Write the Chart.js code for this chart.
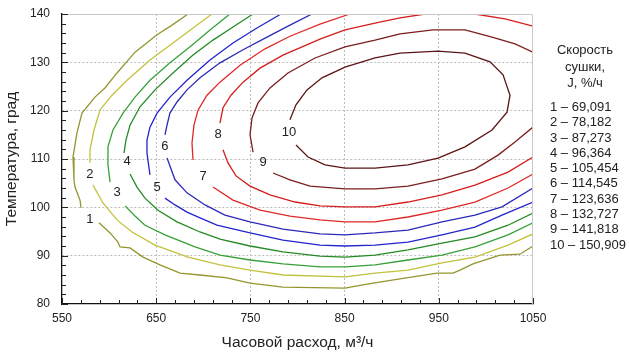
<!DOCTYPE html>
<html>
<head>
<meta charset="utf-8">
<script src="https://cdn.jsdelivr.net/npm/chart.js@4.4.1/dist/chart.umd.min.js"></script>
<style>
    html, body { margin: 0; padding: 0; background: #fff; }
    #wrap { position: relative; width: 629px; height: 355px; font-family: "Liberation Sans", Arial, sans-serif; color: #222; }
    #dryingChart { position: absolute; left: 0; top: 0; }
    .legend-head { position: absolute; left: 545px; top: 42px; width: 80px; text-align: center; font-size: 13px; line-height: 16.5px; }
    .legend-list { position: absolute; left: 550px; top: 99px; font-size: 13px; line-height: 15.3px; white-space: nowrap; }
</style>
</head>
<body>
<div id="wrap">
    <canvas id="dryingChart" width="629" height="355"></canvas>
    <div class="legend-head">Скорость<br>сушки,<br>J, %/ч</div>
    <div class="legend-list" id="levelList"></div>
</div>
<script>
"use strict";

// Levels of the drying rate J, %/h
const levels = [69.091, 78.182, 87.273, 96.364, 105.454, 114.545, 123.636, 132.727, 141.818, 150.909];
const xTicks = [550, 650, 750, 850, 950, 1050];
const yTicks = [80, 90, 100, 110, 120, 130, 140];

// Contour lines: [flow m3/h, temperature], split where the label sits
const contour1 = [
    [[683.8, 140], [666.8, 137.7], [650.9, 135.7], [627.5, 132.1], [608.4, 127.8], [595.6, 124.7], [585.0, 122.8],
     [571.2, 119.5], [565.9, 115.4], [561.7, 110.4], [562.7, 105.7], [563.8, 104.2], [569.1, 101.5], [570.2, 99.9]],
    [[589.3, 96.8], [601.0, 94.7], [609.4, 92.8], [611.6, 91.8], [622.2, 91.6], [636.0, 89.7], [654.0, 88.1],
     [675.3, 86.4], [696.5, 86.0], [725.2, 85.4], [749.6, 84.3], [784.6, 83.5], [850.4, 83.3], [873.8, 84.1],
     [908.8, 85.2], [948.1, 86.4], [965.1, 86.4], [972.5, 87.0], [986.3, 88.3], [1015.0, 90.1], [1036.2, 90.3], [1050, 92.0]]
];
const contour2 = [
    [[709.2, 140], [689.1, 137.1], [667.8, 134.0], [643.4, 130.5], [619.0, 126.3], [603.1, 123.2], [590.3, 120.1],
     [584.0, 116.0], [579.7, 111.9], [579.7, 109.2]],
    [[582.9, 104.6], [593.5, 100.9], [608.4, 97.4], [624.3, 94.9], [648.7, 92.2], [683.8, 89.7], [717.7, 88.1],
     [749.6, 87.0], [784.6, 86.0], [850.4, 85.6], [882.3, 86.4], [917.3, 87.0], [953.4, 88.5], [988.4, 89.7],
     [1023.5, 92.2], [1050, 94.5]]
];
const contour3 = [
    [[728.3, 140], [707.1, 136.7], [685.9, 133.2], [664.6, 129.9], [643.4, 126.3], [627.5, 122.8], [614.8, 119.5],
     [604.1, 116.0], [598.8, 112.5], [598.8, 108.8], [601.0, 105.2]],
    [[616.9, 100.3], [627.5, 98.2], [638.1, 96.3], [659.3, 94.3], [691.2, 91.8], [717.7, 90.1], [749.6, 89.1],
     [784.6, 88.3], [823.9, 87.7], [850.4, 87.7], [882.3, 88.1], [917.3, 89.1], [953.4, 90.1], [988.4, 91.8],
     [1023.5, 94.3], [1050, 96.8]]
];
const contour4 = [
    [[752.8, 140], [731.5, 137.3], [710.3, 134.6], [689.1, 131.5], [667.8, 127.8], [648.7, 124.3], [632.8, 120.8],
     [622.2, 117.0], [617.9, 113.9], [615.8, 111.2]],
    [[622.2, 106.9], [629.6, 104.2], [638.1, 101.9], [651.9, 99.4], [672.1, 97.0], [696.5, 94.9], [717.7, 93.4],
     [749.6, 92.0], [784.6, 90.8], [823.9, 89.9], [850.4, 89.7], [882.3, 90.1], [917.3, 91.2], [953.4, 92.6],
     [988.4, 93.9], [1023.5, 96.3], [1050, 98.8]]
];
const contour5 = [
    [[782.5, 140], [757.0, 137.1], [731.5, 134.0], [707.1, 130.5], [682.7, 126.3], [664.6, 122.8], [650.9, 119.5],
     [643.4, 116.6], [640.2, 113.9], [640.2, 111.2], [643.4, 106.7]],
    [[659.3, 101.9], [670.0, 100.5], [682.7, 99.0], [696.5, 97.8], [714.5, 96.3], [749.6, 94.7], [784.6, 93.2],
     [823.9, 92.2], [850.4, 92.0], [882.3, 92.2], [917.3, 92.8], [953.4, 94.3], [988.4, 95.9], [1017.1, 98.4], [1050, 101.1]]
];
const contour6 = [
    [[815.4, 140], [792.0, 137.7], [767.6, 135.2], [742.2, 132.6], [717.7, 129.9], [696.5, 126.8], [682.7, 124.3],
     [672.1, 121.8], [664.6, 119.5], [661.5, 117.0], [659.3, 115.0]],
    [[661.5, 110.2], [670.0, 105.7], [682.7, 103.0], [701.8, 100.5], [723.0, 98.4], [749.6, 97.0], [784.6, 95.5],
     [823.9, 94.5], [850.4, 94.3], [882.3, 94.7], [917.3, 95.3], [953.4, 97.0], [988.4, 98.4], [1017.1, 100.1], [1050, 104.0]]
];
const contour7 = [
    [[855.7, 140], [823.9, 137.9], [792.0, 135.4], [765.5, 132.8], [739.0, 129.4], [717.7, 125.9], [703.9, 123.2],
     [694.4, 120.1], [690.1, 117.0], [688.0, 113.3], [689.1, 109.8]],
    [[710.3, 104.2], [731.5, 101.5], [760.2, 99.4], [792.0, 98.2], [823.9, 97.4], [850.4, 97.0], [882.3, 97.0],
     [917.3, 98.0], [953.4, 99.4], [988.4, 101.1], [1023.5, 104.0], [1050, 106.9]]
];
const contour8 = [
    [[717.7, 117.4], [720.9, 120.6], [729.4, 123.2], [742.2, 125.9], [760.2, 128.8], [784.6, 131.5], [823.9, 134.8],
     [850.4, 136.7], [882.3, 138.1], [908.8, 139.2], [935.4, 140]],
    [[988.4, 140], [1020.3, 139.0], [1050, 137.5]],
    [[720.9, 111.9], [726.2, 109.2], [734.7, 106.5], [749.6, 104.4], [770.8, 102.6], [797.4, 101.1], [823.9, 100.3],
     [850.4, 100.1], [882.3, 100.1], [917.3, 101.1], [953.4, 102.6], [988.4, 104.6], [1023.5, 107.3], [1050, 110.4]]
];
const contour9 = [
    [[752.8, 111.4], [749.6, 115.0], [751.7, 118.5], [758.1, 121.6], [770.8, 124.7], [789.9, 127.8], [818.6, 130.9],
     [850.4, 133.2], [882.3, 134.6], [908.8, 135.9], [943.9, 136.7], [977.8, 136.7], [1006.5, 135.2], [1030.9, 133.8], [1050, 132.1]],
    [[774.0, 107.1], [792.0, 105.7], [813.3, 104.4], [850.4, 103.8], [882.3, 103.8], [917.3, 104.4], [953.4, 105.9],
     [988.4, 107.9], [1012.9, 110.8], [1030.9, 113.5], [1050, 116.6]]
];
const contour10 = [
    [[792.0, 118.1], [798.4, 121.2], [810.1, 124.3], [826.0, 126.8], [850.4, 129.0], [882.3, 130.9], [908.8, 131.9],
     [949.2, 132.3], [977.8, 131.9], [1004.4, 130.1], [1018.2, 127.4], [1025.6, 123.2], [1022.4, 119.7], [1006.5, 116.0],
     [977.8, 112.5], [949.2, 110.2], [917.3, 108.8], [882.3, 108.1], [850.4, 108.1], [829.2, 108.8], [811.2, 110.4], [798.4, 112.9]]
];
// Where the level numbers sit on the lines
const labelPoints = [[579.7, 97.6], [579.7, 106.9], [608.4, 103.0], [619.0, 109.4], [650.9, 104.2],
    [659.3, 112.7], [699.7, 106.3], [715.6, 115.0], [763.4, 109.2], [791.0, 115.4]];

const contours = [contour1, contour2, contour3, contour4, contour5, contour6, contour7, contour8, contour9, contour10];
const lineColors = ['#959530', '#c2c23e', '#38a038', '#248a24', '#2424cc', '#2a2ab8',
    '#e02828', '#d41e1e', '#7c1e1e', '#5c1414'];

const FONT = '"Liberation Sans", Arial, sans-serif';

document.getElementById('levelList').innerHTML = levels
    .map((v, i) => (i + 1) + ' – ' + v.toFixed(3).replace('.', ','))
    .join('<br>');

const datasets = [];
contours.forEach((segs, i) => {
    segs.forEach(seg => {
        datasets.push({
            data: seg.map(p => ({x: p[0], y: p[1]})),
            borderColor: lineColors[i],
            borderWidth: 1.3,
            showLine: true,
            pointRadius: 0,
            tension: 0,
            fill: false
        });
    });
});

// frame, inner ticks and the level numbers
const decorPlugin = {
    id: 'decor',
    afterDatasetsDraw(chart) {
        const {ctx, chartArea: a, scales: {x, y}} = chart;
        ctx.save();
        ctx.strokeStyle = '#c8c8c8';
        ctx.lineWidth = 1;
        ctx.beginPath();
        ctx.moveTo(a.left, a.top + 0.5);
        ctx.lineTo(a.right - 0.5, a.top + 0.5);
        ctx.lineTo(a.right - 0.5, a.bottom);
        ctx.stroke();

        ctx.strokeStyle = '#222';
        ctx.beginPath();
        for (let v = yTicks[0]; v <= yTicks[yTicks.length - 1]; v += 2) {
            const py = Math.round(y.getPixelForValue(v)) + 0.5;
            const len = (v % 10 === 0) ? 6 : 4;
            ctx.moveTo(a.left, py);
            ctx.lineTo(a.left + len, py);
        }
        for (let v = xTicks[0]; v <= xTicks[xTicks.length - 1]; v += 20) {
            const px = Math.round(x.getPixelForValue(v)) + 0.5;
            const len = ((v - 550) % 100 === 0) ? 6 : 4;
            ctx.moveTo(px, a.bottom);
            ctx.lineTo(px, a.bottom - len);
        }
        ctx.stroke();

        ctx.fillStyle = '#222';
        ctx.font = '13px ' + FONT;
        ctx.textAlign = 'center';
        ctx.textBaseline = 'middle';
        labelPoints.forEach((p, i) => {
            ctx.fillText(String(i + 1), x.getPixelForValue(p[0]), y.getPixelForValue(p[1]));
        });
        ctx.restore();
    }
};

new Chart(document.getElementById('dryingChart'), {
    type: 'scatter',
    data: {datasets: datasets},
    options: {
        responsive: false,
        animation: false,
        events: [],
        layout: {padding: {top: 14, right: 96, left: 0, bottom: 0}},
        plugins: {legend: {display: false}, tooltip: {enabled: false}},
        scales: {
            x: {
                type: 'linear',
                min: 550,
                max: 1050,
                afterBuildTicks: s => { s.ticks = xTicks.map(v => ({value: v})); },
                afterFit: s => { s.height = 51; s.paddingLeft = 0; s.paddingRight = 0; },
                ticks: {
                    callback: v => String(v),
                    padding: 7,
                    maxRotation: 0,
                    autoSkip: false,
                    color: '#222',
                    font: {family: FONT, size: 12}
                },
                grid: {
                    color: c => (c.tick && (c.tick.value === 550 || c.tick.value === 1050)) ? 'rgba(0,0,0,0)' : '#bdbdbd',
                    lineWidth: 1,
                    drawTicks: false
                },
                border: {color: '#111', width: 1.3, dash: [2, 2]},
                title: {
                    display: true,
                    text: 'Часовой расход, м³/ч',
                    color: '#222',
                    font: {family: FONT, size: 15.5},
                    padding: {top: 0, bottom: 3}
                }
            },
            y: {
                type: 'linear',
                min: 80,
                max: 140,
                afterBuildTicks: s => { s.ticks = yTicks.map(v => ({value: v})); },
                afterFit: s => { s.width = 62; s.paddingTop = 0; s.paddingBottom = 0; },
                ticks: {
                    callback: v => String(v),
                    padding: 12,
                    color: '#222',
                    font: {family: FONT, size: 12}
                },
                grid: {
                    color: c => (c.tick && (c.tick.value === 80 || c.tick.value === 140)) ? 'rgba(0,0,0,0)' : '#bdbdbd',
                    lineWidth: 1,
                    drawTicks: false
                },
                border: {color: '#111', width: 1.3, dash: [2, 2]},
                title: {
                    display: true,
                    text: 'Температура, град',
                    color: '#222',
                    font: {family: FONT, size: 15.5},
                    padding: {top: 2, bottom: 0}
                }
            }
        }
    },
    plugins: [decorPlugin]
});
</script>
</body>
</html>
